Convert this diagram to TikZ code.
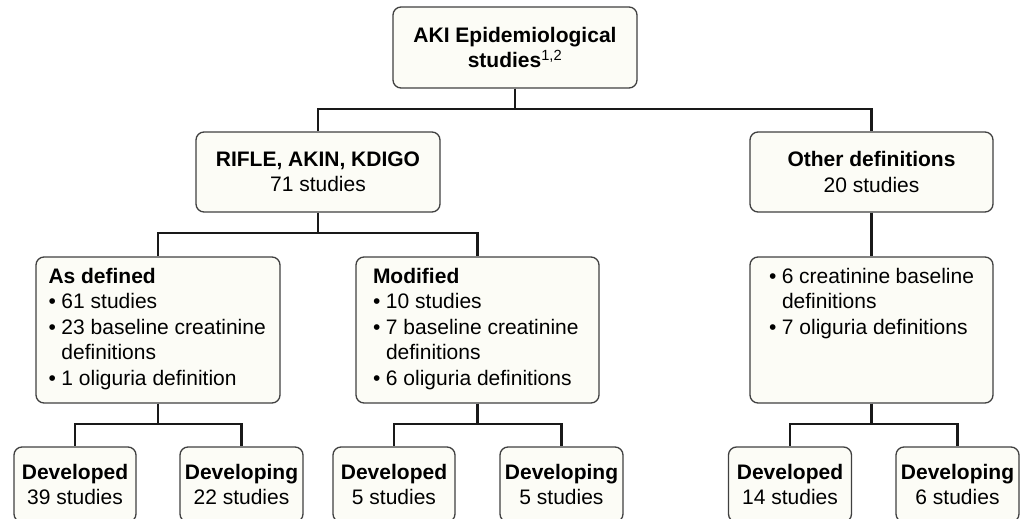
\documentclass[tikz,border=0pt]{standalone}
\usepackage{fontspec}
\setmainfont{Liberation Sans}
\usepackage{tikz}
\usetikzlibrary{positioning}
\definecolor{boxfill}{RGB}{252,252,246}
\tikzstyle{heading} = [rectangle, rounded corners=8pt, minimum width=244pt, minimum height=80pt, text centered, align=center, inner sep=0pt, draw=black!75, line width=1.3pt, fill=boxfill]
\tikzstyle{listbox} = [rectangle, rounded corners=8pt, minimum width=244pt, minimum height=146pt, inner xsep=0pt, inner ysep=11pt, draw=black!75, line width=1.3pt, fill=boxfill]
\tikzstyle{leaf} = [heading, minimum width=123pt, minimum height=75pt]
\tikzstyle{link} = [line width=2.2pt, black!90]
\newcommand{\itm}[1]{\par\hangindent=13pt\hangafter=1\noindent\makebox[13pt][l]{•}#1}
\newcommand{\lst}[2]{\parbox[c][124pt][t]{#1}{\raggedright #2}}

\begin{document}
\begin{tikzpicture}  [x=1pt, y=-1pt, font=\fontsize{21}{25.5}\selectfont]
			\useasboundingbox (0,0) rectangle (1026,519);
			\clip (0,0) rectangle (1026,519);
			\node[heading, minimum height=81pt] (aki) at (515,47.5) {\textbf{AKI Epidemiological}\\\textbf{studies}\textsuperscript{1,2}};
			\node[heading] (rifle) at (318,172) {\textbf{RIFLE, AKIN, KDIGO}\\71 studies};
			\node[heading, minimum width=243pt] (other) at (871.5,172) {\textbf{Other definitions}\\20 studies};
			
			\node[listbox] (asdef) at (158,330) {\lst{219pt}{\textbf{As defined}\itm{61 studies}\itm{23 baseline creatinine\newline definitions}\itm{1 oliguria definition}}};
			\node[listbox, minimum width=243pt] (modif) at (477.5,330) {\lst{209pt}{\textbf{Modified}\itm{10 studies}\itm{7 baseline creatinine\newline definitions}\itm{6 oliguria definitions}}};
			\node[listbox, minimum width=243pt] (othsub) at (871.5,330) {\lst{205pt}{\itm{6 creatinine baseline\newline definitions}\itm{7 oliguria definitions}}};
			
			\node[leaf, minimum width=122pt] (dev1) at (75,484.5) {\textbf{Developed}\\39 studies};
			\node[leaf] (devg1) at (241.5,484.5) {\textbf{Developing}\\22 studies};
			\node[leaf, minimum width=122pt] (dev2) at (394,484.5) {\textbf{Developed}\\5 studies};
			\node[leaf] (devg2) at (561.5,484.5) {\textbf{Developing}\\5 studies};
			\node[leaf] (dev3) at (790,484.5) {\textbf{Developed}\\14 studies};
			\node[leaf] (devg3) at (957.5,484.5) {\textbf{Developing}\\6 studies};
			
			%lines
			\draw [link] (aki.south) -- ++(0,20) -| (rifle.north);
			\draw [link] (aki.south) -- ++(0,20) -| (other.north);
			\draw [link] (rifle.south) -- ++(0,20) -| (asdef.north);
			\draw [link] (rifle.south) -- ++(0,20) -| (modif.north);
			\draw [link] (other.south) -- (othsub.north);
			\draw [link] (asdef.south) -- ++(0,20) -| (dev1.north);
			\draw [link] (asdef.south) -- ++(0,20) -| (devg1.north);
			\draw [link] (modif.south) -- ++(0,20) -| (dev2.north);
			\draw [link] (modif.south) -- ++(0,20) -| (devg2.north);
			\draw [link] (othsub.south) -- ++(0,20) -| (dev3.north);
			\draw [link] (othsub.south) -- ++(0,20) -| (devg3.north);
			
		\end{tikzpicture}
\end{document}
